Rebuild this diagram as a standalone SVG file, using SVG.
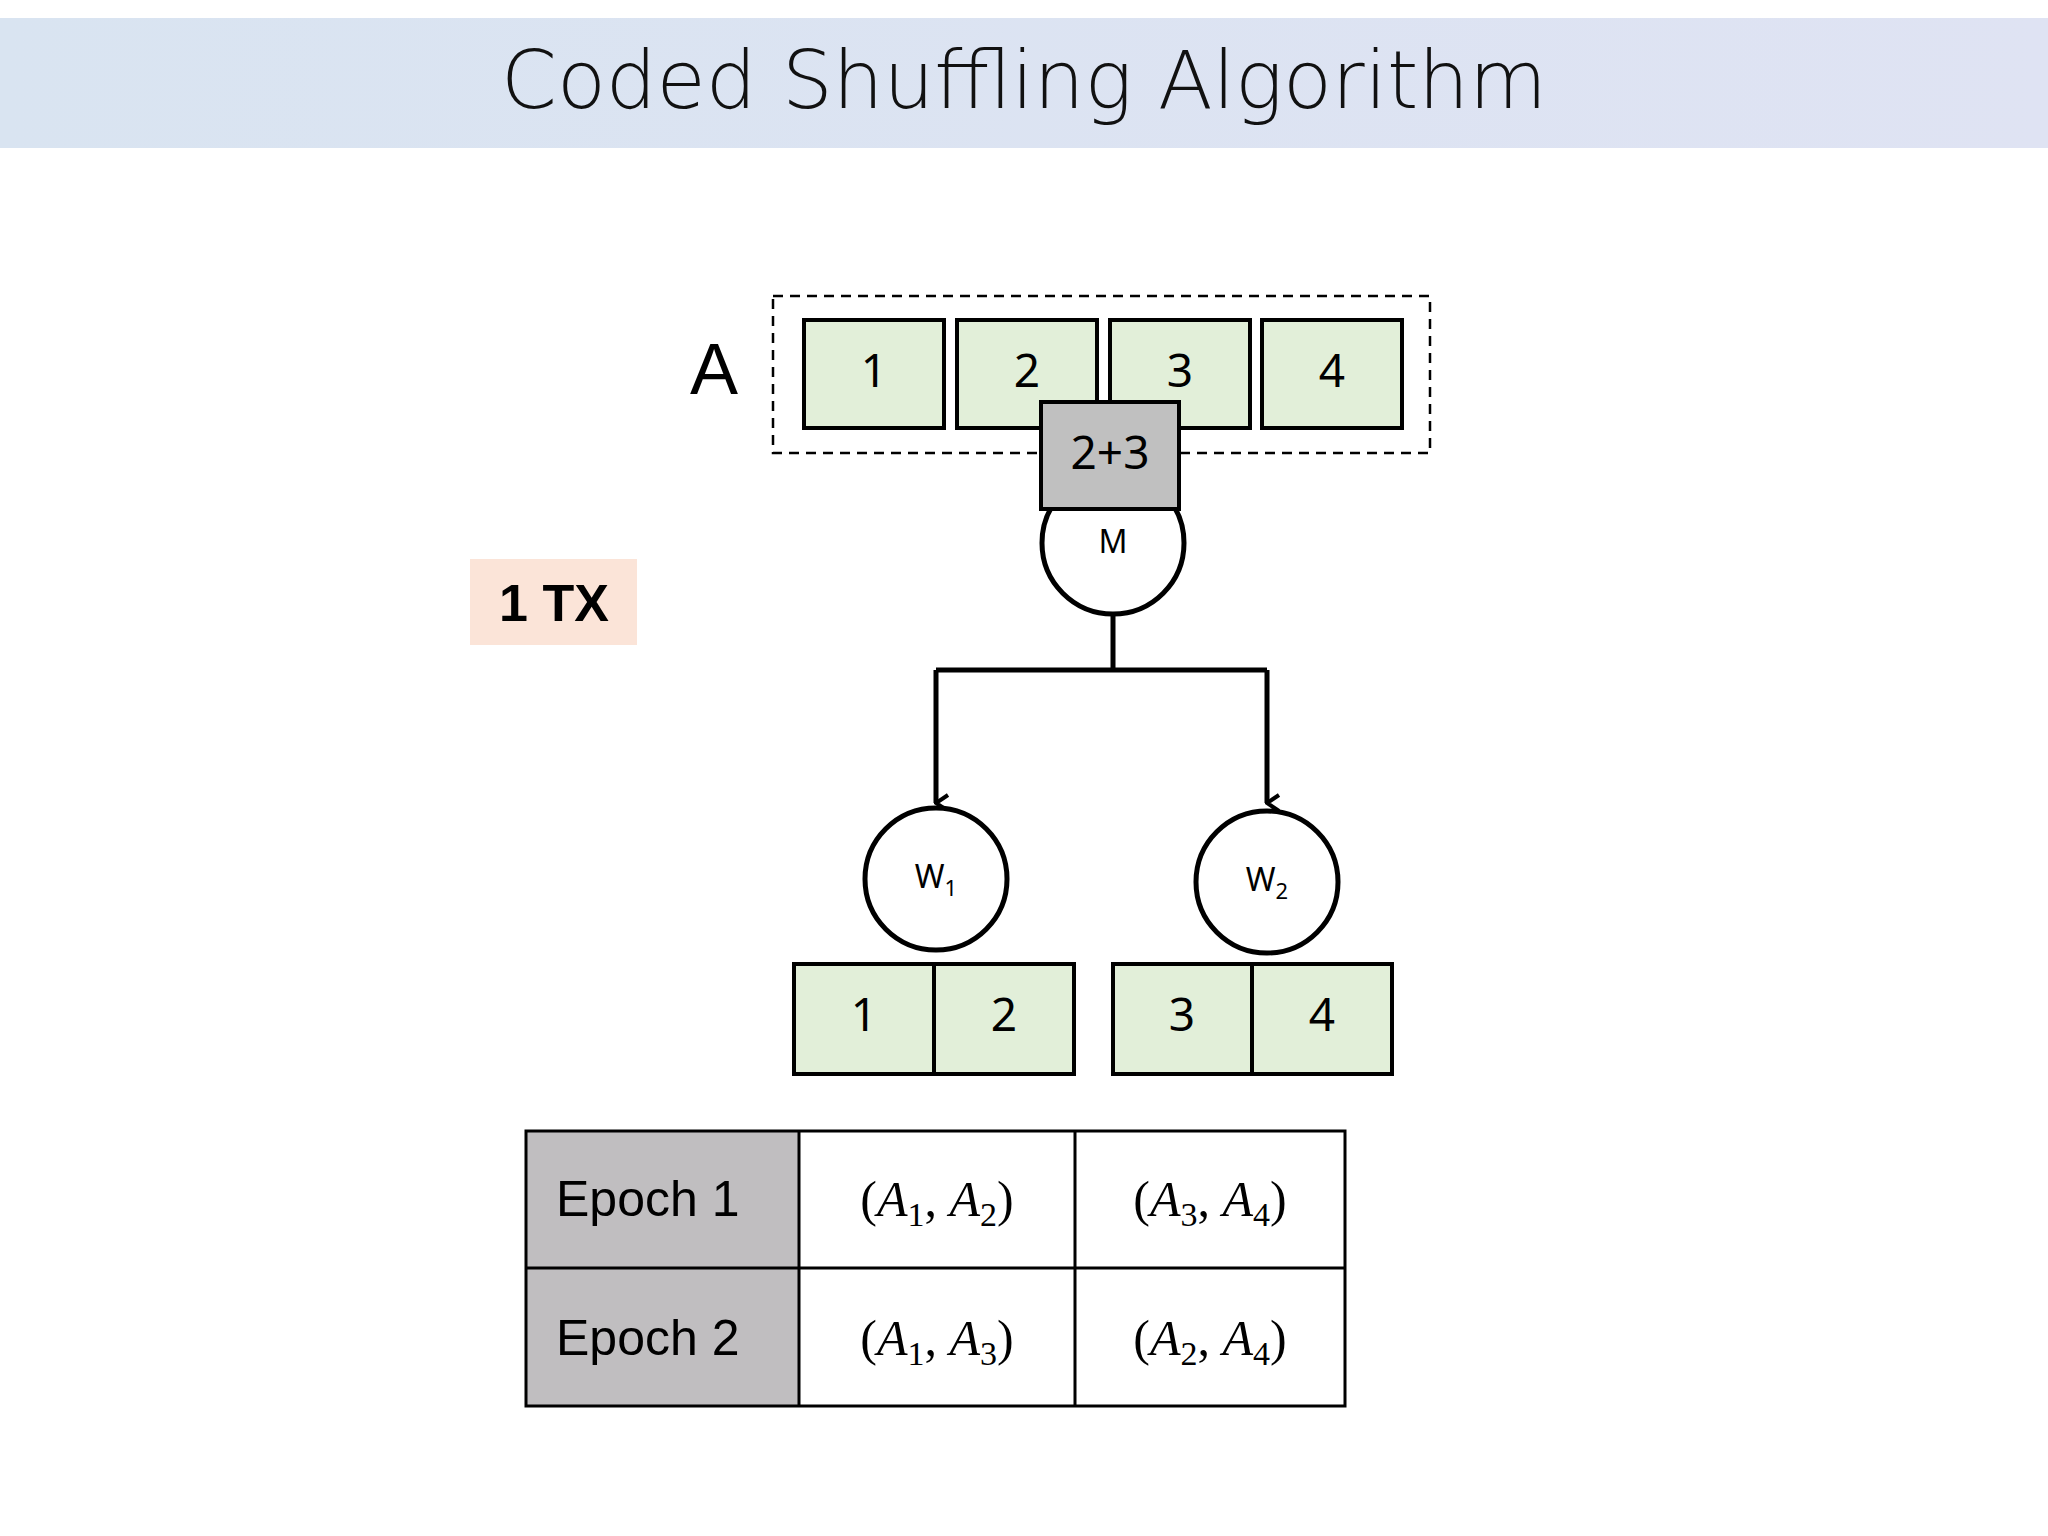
<svg xmlns="http://www.w3.org/2000/svg" width="2048" height="1536" viewBox="0 0 2048 1536">
<defs>
<linearGradient id="tg" x1="0" x2="1"><stop offset="0" stop-color="#d9e4f1"/><stop offset="1" stop-color="#dfe3f3"/></linearGradient>
<marker id="ah" viewBox="0 0 20 20" refX="10" refY="18" markerWidth="20" markerHeight="20" markerUnits="userSpaceOnUse" orient="auto-start-reverse"><path d="M2,6 L10,18 L18,6" fill="none" stroke="#000" stroke-width="4"/></marker>
</defs>
<style>
.cell{fill:#e2efd9;stroke:#000;stroke-width:4}
.num{font-family:"Noto Sans","DejaVu Sans",sans-serif;font-size:46px;text-anchor:middle}
.circ{fill:#fff;stroke:#000;stroke-width:5}
.conn{fill:none;stroke:#000;stroke-width:5}
.tc{stroke:#000;stroke-width:3}
.ep{font-family:"Liberation Sans",sans-serif;font-size:50px}
.math{font-family:"Liberation Serif",serif;font-size:50px;text-anchor:middle}
.sub{font-size:34px;font-style:normal}
</style>
<rect width="2048" height="1536" fill="#fff"/>
<g id="title"><rect x="0" y="18" width="2048" height="130" fill="url(#tg)"/>
<text x="1024" y="108" font-family="'DejaVu Sans',sans-serif" font-weight="300" font-size="80" text-anchor="middle" fill="#111">Coded Shuffling Algorithm</text></g>
<g id="arrayA">
<rect x="773" y="296" width="657" height="157" fill="none" stroke="#000" stroke-width="2.5" stroke-dasharray="10,7"/>
<text x="714" y="394" font-family="'Liberation Sans',sans-serif" font-size="72" text-anchor="middle">A</text>
<rect class="cell" x="804" y="320" width="140" height="108"/><text class="num" x="874" y="387">1</text>
<rect class="cell" x="957" y="320" width="140" height="108"/><text class="num" x="1027" y="387">2</text>
<rect class="cell" x="1110" y="320" width="140" height="108"/><text class="num" x="1180" y="387">3</text>
<rect class="cell" x="1262" y="320" width="140" height="108"/><text class="num" x="1332" y="387">4</text>
</g>
<g id="M"><circle class="circ" cx="1113" cy="543" r="71"/><text x="1113" y="553" font-family="'Noto Sans',sans-serif" font-size="32" text-anchor="middle">M</text></g>
<g id="coded"><rect x="1041" y="402" width="138" height="107" fill="#c0c0c0" stroke="#000" stroke-width="4"/><text class="num" x="1110" y="469">2+3</text></g>
<g id="tx"><rect x="470" y="559" width="167" height="86" fill="#fbe4d8"/><text x="554" y="621" font-family="'Liberation Sans',sans-serif" font-weight="bold" font-size="52" text-anchor="middle">1 TX</text></g>
<g id="connectors">
<path class="conn" d="M1113,614 V670 M936,670 H1267"/>
<path class="conn" d="M936,670 V803" marker-end="url(#ah)"/>
<path class="conn" d="M1267,670 V803" marker-end="url(#ah)"/>
</g>
<g id="W1"><circle class="circ" cx="936" cy="879" r="71"/><text x="936" y="888" font-family="'Noto Sans',sans-serif" font-size="32" text-anchor="middle">W<tspan font-size="22" dy="8">1</tspan></text></g>
<g id="W2"><circle class="circ" cx="1267" cy="882" r="71"/><text x="1267" y="891" font-family="'Noto Sans',sans-serif" font-size="32" text-anchor="middle">W<tspan font-size="22" dy="8">2</tspan></text></g>
<g id="W1data"><rect class="cell" x="794" y="964" width="140" height="110"/><text class="num" x="864" y="1031">1</text>
<rect class="cell" x="934" y="964" width="140" height="110"/><text class="num" x="1004" y="1031">2</text></g>
<g id="W2data"><rect class="cell" x="1113" y="964" width="139" height="110"/><text class="num" x="1182" y="1031">3</text>
<rect class="cell" x="1252" y="964" width="140" height="110"/><text class="num" x="1322" y="1031">4</text></g>
<g id="table">
<rect x="526" y="1131" width="273" height="275" fill="#c0bec0"/>
<rect x="526" y="1131" width="819" height="275" fill="none" class="tc"/>
<line class="tc" x1="526" y1="1268" x2="1345" y2="1268"/>
<line class="tc" x1="799" y1="1131" x2="799" y2="1406"/>
<line class="tc" x1="1075" y1="1131" x2="1075" y2="1406"/>
<text class="ep" x="556" y="1216">Epoch 1</text>
<text class="ep" x="556" y="1355">Epoch 2</text>
<text class="math" x="937" y="1216">(<tspan font-style="italic">A</tspan><tspan class="sub" dy="10">1</tspan><tspan dy="-10">, </tspan><tspan font-style="italic">A</tspan><tspan class="sub" dy="10">2</tspan><tspan dy="-10">)</tspan></text>
<text class="math" x="1210" y="1216">(<tspan font-style="italic">A</tspan><tspan class="sub" dy="10">3</tspan><tspan dy="-10">, </tspan><tspan font-style="italic">A</tspan><tspan class="sub" dy="10">4</tspan><tspan dy="-10">)</tspan></text>
<text class="math" x="937" y="1355">(<tspan font-style="italic">A</tspan><tspan class="sub" dy="10">1</tspan><tspan dy="-10">, </tspan><tspan font-style="italic">A</tspan><tspan class="sub" dy="10">3</tspan><tspan dy="-10">)</tspan></text>
<text class="math" x="1210" y="1355">(<tspan font-style="italic">A</tspan><tspan class="sub" dy="10">2</tspan><tspan dy="-10">, </tspan><tspan font-style="italic">A</tspan><tspan class="sub" dy="10">4</tspan><tspan dy="-10">)</tspan></text>
</g>
</svg>
